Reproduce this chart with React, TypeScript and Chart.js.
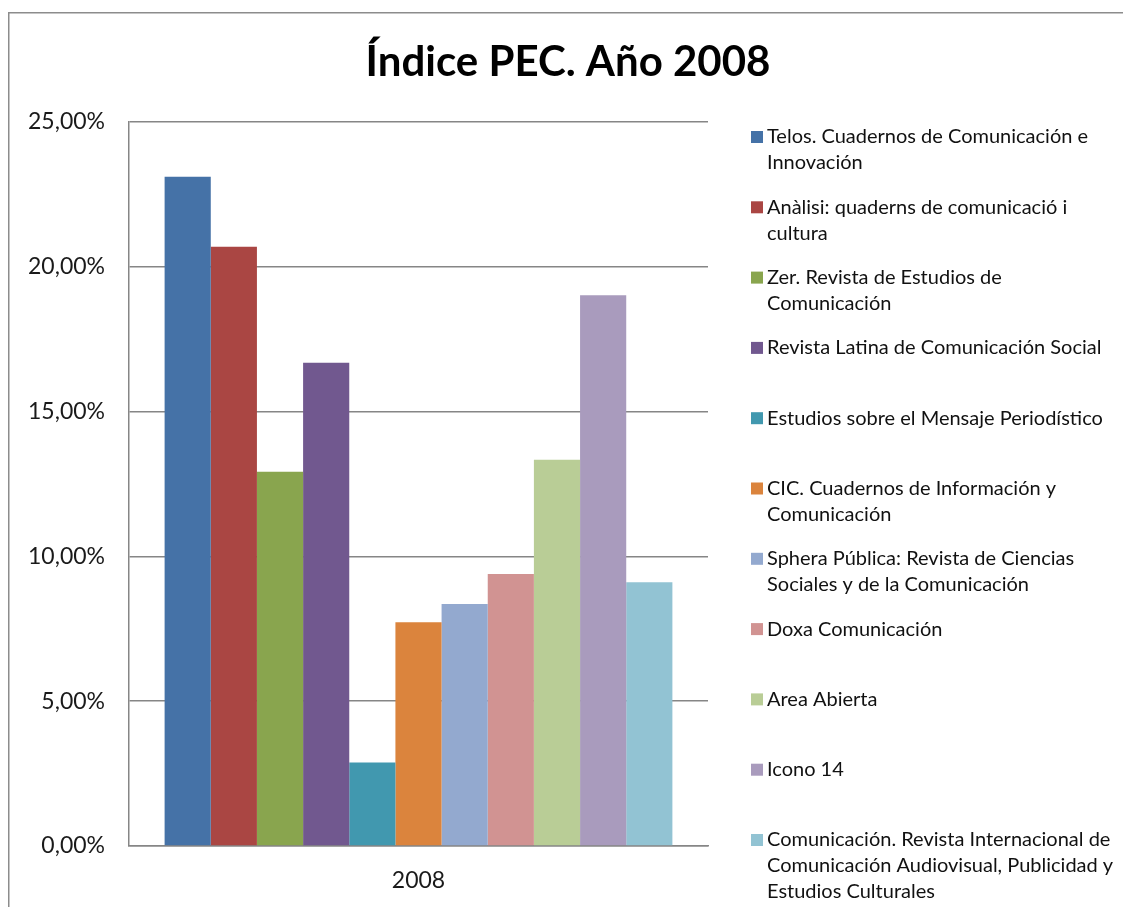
import React, { useEffect, useRef } from "react";
import { Chart, registerables } from "chart.js";

Chart.register(...registerables);

const categories = ["2008"];

const seriesNames = [
  "Telos. Cuadernos de Comunicación e\nInnovación",
  "Anàlisi: quaderns de comunicació i\ncultura",
  "Zer. Revista de Estudios de\nComunicación",
  "Revista Latina de Comunicación Social",
  "Estudios sobre el Mensaje Periodístico",
  "CIC. Cuadernos de Información y\nComunicación",
  "Sphera Pública: Revista de Ciencias\nSociales y de la Comunicación",
  "Doxa Comunicación",
  "Area Abierta",
  "Icono 14",
  "Comunicación. Revista Internacional de\nComunicación Audiovisual, Publicidad y\nEstudios Culturales",
];

const seriesValues = [23.11, 20.69, 12.92, 16.69, 2.88, 7.73, 8.36, 9.39, 13.34, 19.02, 9.11];

const seriesColors = [
  "#4572A7",
  "#AA4643",
  "#89A54E",
  "#71588F",
  "#4198AF",
  "#DB843D",
  "#93A9CF",
  "#D19392",
  "#B9CD96",
  "#A99BBD",
  "#92C3D3",
];

const yMin = 0;
const yMax = 25;
const yStep = 5;

const titleText = "Índice PEC. Año 2008";

const FONT = "Lato, 'Open Sans', sans-serif";

const framePlugin = {
  id: "frame",
  beforeDraw(chart: any) {
    const ctx = chart.ctx;
    ctx.save();
    ctx.fillStyle = "#ffffff";
    ctx.fillRect(0, 0, chart.width, chart.height);
    ctx.strokeStyle = "#8c8c8c";
    ctx.lineWidth = 1.5;
    ctx.strokeRect(8.75, 12.75, chart.width + 20, chart.height + 20);
    ctx.restore();
  },
};

const titlePlugin = {
  id: "centeredTitle",
  afterDraw(chart: any) {
    const ctx = chart.ctx;
    ctx.save();
    ctx.font = `bold 42px ${FONT}`;
    ctx.fillStyle = "#000000";
    ctx.textAlign = "center";
    ctx.textBaseline = "middle";
    ctx.fillText(titleText, 568, 62);
    ctx.restore();
  },
};

const legendPlugin = {
  id: "wrappedLegend",
  afterDraw(chart: any) {
    const ctx = chart.ctx;
    const top = chart.chartArea.top;
    const boxX = 751;
    const textX = 767;
    const slot = 70.3;
    const lineH = 26;
    ctx.save();
    ctx.font = `20px ${FONT}`;
    ctx.textBaseline = "middle";
    ctx.textAlign = "left";
    chart.data.datasets.forEach((ds: any, i: number) => {
      const y0 = top + 15 + i * slot;
      ctx.fillStyle = ds.backgroundColor;
      ctx.fillRect(boxX, y0 - 6, 12, 12);
      ctx.fillStyle = "#111111";
      const lines = seriesNames[i].split("\n");
      lines.forEach((line: string, j: number) => {
        ctx.fillText(line, textX, y0 + j * lineH);
      });
    });
    ctx.restore();
  },
};

export default function App() {
  const canvasRef = useRef<HTMLCanvasElement | null>(null);

  useEffect(() => {
    const canvas = canvasRef.current;
    if (!canvas) return;
    const chart = new Chart(canvas, {
      type: "bar",
      data: {
        labels: categories,
        datasets: seriesNames.map((name, i) => ({
          label: name.replace(/\n/g, " "),
          data: [seriesValues[i]],
          backgroundColor: seriesColors[i],
          borderWidth: 0,
          categoryPercentage: 0.877,
          barPercentage: 1,
        })),
      },
      options: {
        responsive: false,
        animation: false,
        devicePixelRatio: 1,
        layout: { padding: { left: 0, right: 415, top: 122, bottom: 0 } },
        plugins: {
          legend: { display: false },
          tooltip: { enabled: false },
          title: { display: false },
        },
        scales: {
          x: {
            grid: { display: false, drawTicks: false },
            border: { display: true, color: "#868686", width: 1.5 },
            ticks: {
              color: "#1a1a1a",
              font: { family: FONT, size: 23 },
              padding: 21,
            },
            afterFit(scale: any) {
              scale.height = 61;
            },
          },
          y: {
            min: yMin,
            max: yMax,
            grid: { color: "#868686", lineWidth: 1.5, drawTicks: false },
            border: { display: true, color: "#868686", width: 1.5 },
            ticks: {
              stepSize: yStep,
              color: "#1a1a1a",
              font: { family: FONT, size: 23 },
              padding: 24,
              callback: (v: any) => Number(v).toFixed(2).replace(".", ",") + "%",
            },
            afterFit(scale: any) {
              scale.width = 129;
            },
          },
        },
      },
      plugins: [framePlugin, titlePlugin, legendPlugin],
    });
    return () => chart.destroy();
  }, []);

  return (
    <div style={{ position: "absolute", left: 0, top: 0, width: 1123, height: 907, background: "#fff" }}>
      <canvas ref={canvasRef} width={1123} height={907} style={{ display: "block" }} />
    </div>
  );
}
